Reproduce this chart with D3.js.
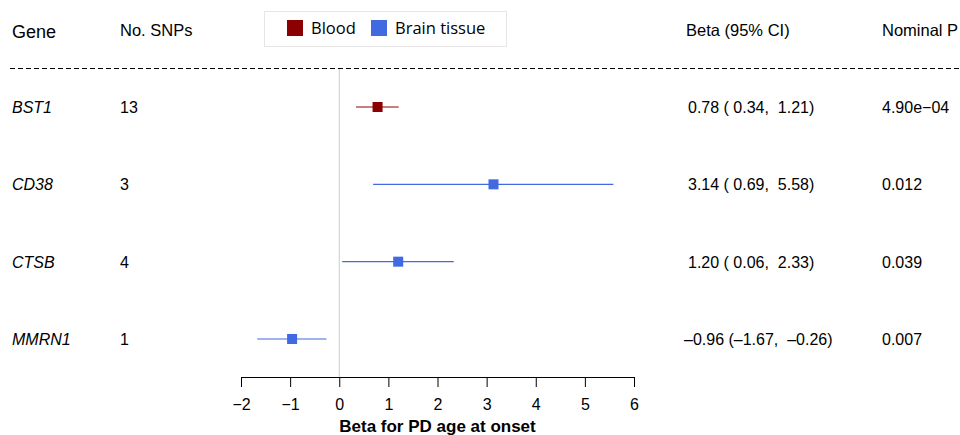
<html>
<head>
    <meta charset="utf-8">
    <title>Forest plot</title>
    <script src="https://d3js.org/d3.v7.min.js" charset="utf-8"></script>
    <style>
        body { margin: 0; background: #fff; }
        text { font-family: "Liberation Sans", Arial, sans-serif; fill: #000; }
        .legend text { font-family: "Open Sans", "Noto Sans", sans-serif; }
    </style>
</head>
<body>
<svg width="960" height="435"></svg>
<script>

    var genes = ["BST1", "CD38", "CTSB", "MMRN1"];
    var snps = [13, 3, 4, 1];
    var beta = [0.78, 3.14, 1.20, -0.96];
    var lower = [0.34, 0.69, 0.06, -1.67];
    var upper = [1.21, 5.58, 2.33, -0.26];
    var tissue = ["Blood", "Brain tissue", "Brain tissue", "Brain tissue"];
    var pvals = ["4.90e\u221204", "0.012", "0.039", "0.007"];
    var xTicks = [-2, -1, 0, 1, 2, 3, 4, 5, 6];
    var tissues = ["Blood", "Brain tissue"];

    var svg = d3.select("svg");

    var color = d3.scaleOrdinal().domain(tissues).range(["#8b0000", "#4169e1"]);

    var x = d3.scaleLinear().domain([-2, 6]).range([241, 634]);
    var y = d3.scalePoint().domain(genes).range([107, 339]);

    var fmt = function(v) { return v.toFixed(2).replace("-", "\u2013"); };
    var pad = function(v) { var s = fmt(v); return v < 0 ? s : " " + s; };

    // header
    var head = svg.append("g").attr("font-size", 16.5);
    head.append("text").attr("x", 12).attr("y", 38).attr("font-size", 18).text("Gene");
    head.append("text").attr("x", 120).attr("y", 36).text("No. SNPs");
    head.append("text").attr("x", 686).attr("y", 36).text("Beta (95% CI)");
    head.append("text").attr("x", 882).attr("y", 36).text("Nominal P");

    svg.append("line")
        .attr("x1", 10).attr("x2", 960).attr("y1", 68.5).attr("y2", 68.5)
        .attr("stroke", "#000").attr("stroke-dasharray", "5,3");

    // legend
    var leg = svg.append("g").attr("class", "legend");
    leg.append("rect").attr("x", 264.5).attr("y", 11.5).attr("width", 242).attr("height", 35)
        .attr("fill", "none").attr("stroke", "#ccc").attr("stroke-dasharray", "1,1");
    var lx = [287, 371];
    tissues.forEach(function(t, i) {
        leg.append("rect").attr("x", lx[i]).attr("y", 20).attr("width", 16).attr("height", 16)
            .attr("fill", color(t));
        leg.append("text").attr("x", lx[i] + 24).attr("y", 34).attr("font-size", 16.5).text(t);
    });

    // zero line
    svg.append("line")
        .attr("x1", x(0)).attr("x2", x(0)).attr("y1", 69).attr("y2", 377)
        .attr("stroke", "#ccc");

    // rows
    var rows = svg.append("g").selectAll("g").data(genes).enter().append("g")
        .attr("transform", function(d) { return "translate(0," + y(d) + ")"; });

    rows.append("text").attr("x", 12).attr("y", 6).attr("font-size", 16)
        .attr("font-style", "italic").text(function(d) { return d; });
    rows.append("text").attr("x", 120).attr("y", 6).attr("font-size", 16)
        .text(function(d, i) { return snps[i]; });
    rows.append("text").attr("x", function(d, i) { return beta[i] < 0 ? 684 : 688; })
        .attr("y", 6).attr("font-size", 16).attr("xml:space", "preserve")
        .text(function(d, i) {
            return fmt(beta[i]) + " (" + pad(lower[i]) + ",  " + fmt(upper[i]) + ")";
        });
    rows.append("text").attr("x", 882).attr("y", 6).attr("font-size", 16)
        .text(function(d, i) { return pvals[i]; });

    rows.append("line")
        .attr("x1", function(d, i) { return x(lower[i]); })
        .attr("x2", function(d, i) { return x(upper[i]); })
        .attr("stroke", function(d, i) { return color(tissue[i]); })
        .attr("stroke-width", 1.2);
    rows.append("rect")
        .attr("x", function(d, i) { return x(beta[i]) - 5; })
        .attr("y", -5).attr("width", 10).attr("height", 10)
        .attr("fill", function(d, i) { return color(tissue[i]); });

    // axis
    var axis = svg.append("g").attr("transform", "translate(0,377)")
        .call(d3.axisBottom(x).tickValues(xTicks).tickSize(10).tickPadding(12)
            .tickFormat(function(d) { return String(d).replace("-", "\u2212"); }));
    axis.select(".domain").attr("stroke", "#000");
    axis.selectAll(".tick line").attr("stroke", "#000");
    axis.selectAll("text").attr("font-size", 16).attr("font-family", "Liberation Sans, Arial, sans-serif");

    svg.append("text").attr("x", x(2)).attr("y", 432).attr("text-anchor", "middle")
        .attr("font-size", 17).attr("font-weight", "bold").text("Beta for PD age at onset");

</script>
</body>
</html>
